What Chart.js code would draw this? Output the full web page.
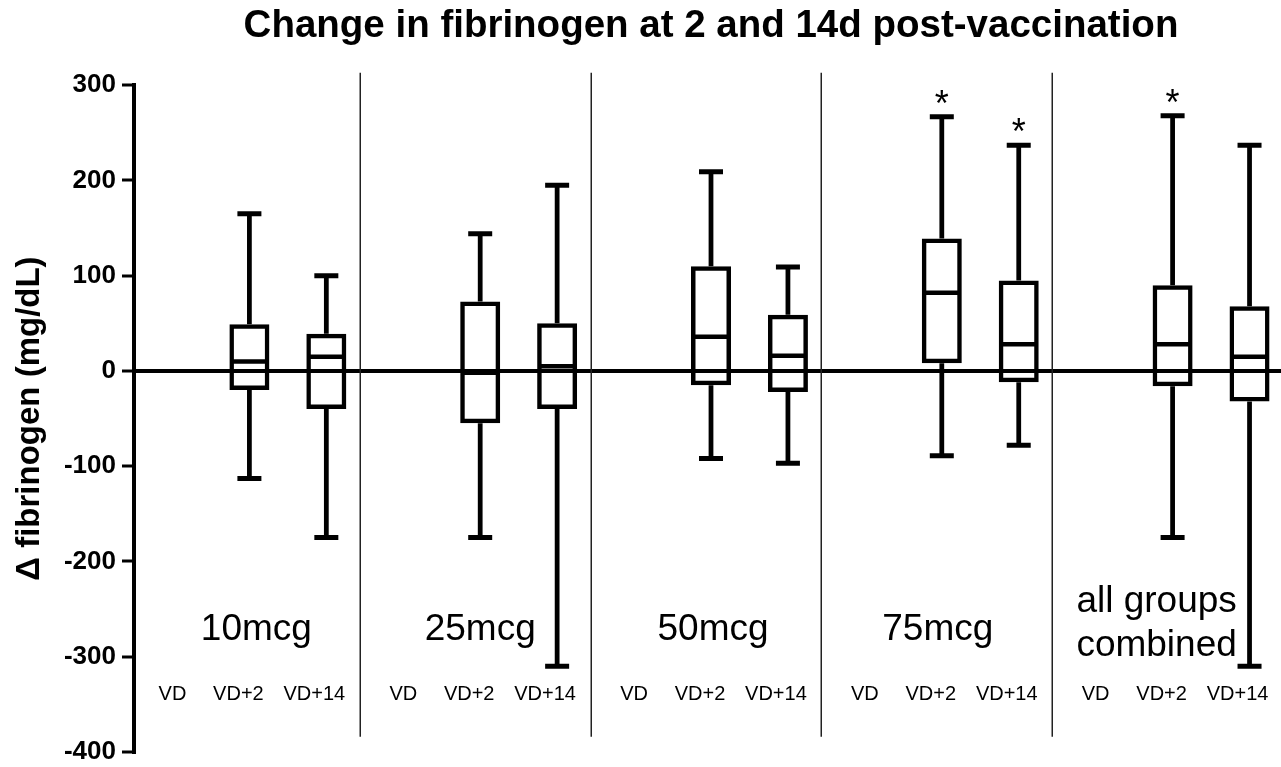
<!DOCTYPE html>
<html><head><meta charset="utf-8">
<script src="https://cdn.jsdelivr.net/npm/chart.js@4"></script>
<style>
html,body{margin:0;padding:0;background:#fff;overflow:hidden;}
#clip{position:relative;width:1281px;height:767px;overflow:hidden;}
#holder{position:relative;width:1288px;height:767px;}
canvas{display:block;}
</style>
</head><body>
<div id="clip"><div id="holder"><canvas id="c"></canvas></div></div>
<script>
// ---- data ----
const titleText = 'Change in fibrinogen at 2 and 14d post-vaccination';
const yTitle = 'Δ fibrinogen (mg/dL)';
const categories = ['VD','VD+2','VD+14','VD','VD+2','VD+14','VD','VD+2','VD+14','VD','VD+2','VD+14','VD','VD+2','VD+14'];
const groupLabels = [['10mcg'], ['25mcg'], ['50mcg'], ['75mcg'], ['all groups', 'combined']];
const yTicks = [-400, -300, -200, -100, 0, 100, 200, 300];
const whiskerMax = [null, 165, 100, null, 144, 195, null, 209, 109, null, 267, 237, null, 268, 237];
const q3         = [null,  49,  39, null,  73,  50, null, 110,  59, null, 139,  95, null,  90,  68];
const median     = [null,  10,  15, null,  -2,   5, null,  36,  16, null,  82,  28, null,  28,  15];
const q1         = [null, -20, -40, null, -55, -40, null, -15, -22, null,   8, -12, null, -16, -32];
const whiskerMin = [null,-113,-175, null,-175,-310, null, -92, -97, null, -89, -78, null,-175,-310];
const significant = [false,false,false, false,false,false, false,false,false, false,true,true, false,true,false];

// ---- styling constants ----
const FONT = '"Liberation Sans", Arial, Helvetica, sans-serif';
const catLabelShift = [0, -11, -12];           // px shift of VD / VD+2 / VD+14 text
const groupLabelShift = [7, 0, 2, -4, -16];     // px shift of group captions
const separatorShift = -5;

const boxes = categories.map((_, i) => q1[i] == null ? null : [q1[i], q3[i]]);
const lowerW = categories.map((_, i) => whiskerMin[i] == null ? null : [whiskerMin[i], q1[i]]);
const upperW = categories.map((_, i) => whiskerMax[i] == null ? null : [q3[i], whiskerMax[i]]);

const overlay = {
  id: 'overlay',
  afterDatasetsDraw(chart) {
    const {ctx, scales: {x, y}} = chart;
    const cx = i => x.getPixelForValue(i);
    ctx.save();
    // group separators
    ctx.strokeStyle = '#222';
    ctx.lineWidth = 1.5;
    for (let g = 1; g < groupLabels.length; g++) {
      const i = g * 3 - 1;
      const px = Math.round((cx(i) + cx(i + 1)) / 2 + separatorShift) + 0.25;
      ctx.beginPath();
      ctx.moveTo(px, y.getPixelForValue(313));
      ctx.lineTo(px, y.getPixelForValue(-384));
      ctx.stroke();
    }
    ctx.fillStyle = '#000';
    // category labels
    ctx.font = '20px ' + FONT;
    ctx.textAlign = 'center';
    ctx.textBaseline = 'middle';
    categories.forEach((c, i) => {
      ctx.fillText(c, cx(i) + catLabelShift[i % 3], y.getPixelForValue(-340));
    });
    // group captions
    ctx.font = '37px ' + FONT;
    ctx.textBaseline = 'alphabetic';
    groupLabels.forEach((lines, g) => {
      const px = cx(g * 3 + 1) + groupLabelShift[g];
      if (lines.length === 1) {
        ctx.fillText(lines[0], px, y.getPixelForValue(-282));
      } else {
        lines.forEach((t, k) => ctx.fillText(t, px, y.getPixelForValue(-253) + k * 44));
      }
    });
    // significance asterisks
    ctx.font = '36px ' + FONT;
    significant.forEach((s, i) => {
      if (s) ctx.fillText('*', cx(i), y.getPixelForValue(whiskerMax[i]) - 1);
    });
    ctx.restore();
  }
};

new Chart(document.getElementById('c'), {
  type: 'bar',
  data: {
    labels: categories,
    datasets: [
      { label: 'box', data: boxes, backgroundColor: 'rgba(0,0,0,0)', borderColor: '#000', borderWidth: 4.5, barPercentage: 0.52 },
      { label: 'lower whisker', data: lowerW, backgroundColor: '#000', borderWidth: 0, barPercentage: 0.062 },
      { label: 'upper whisker', data: upperW, backgroundColor: '#000', borderWidth: 0, barPercentage: 0.062 },
      { type: 'line', label: 'median', data: median, showLine: false, pointStyle: 'line', pointRadius: 17, pointBorderWidth: 4.5, pointBorderColor: '#000', pointBackgroundColor: '#000' },
      { type: 'line', label: 'max', data: whiskerMax, showLine: false, pointStyle: 'line', pointRadius: 12, pointBorderWidth: 5, pointBorderColor: '#000', pointBackgroundColor: '#000' },
      { type: 'line', label: 'min', data: whiskerMin, showLine: false, pointStyle: 'line', pointRadius: 12, pointBorderWidth: 5, pointBorderColor: '#000', pointBackgroundColor: '#000' }
    ]
  },
  options: {
    responsive: true,
    maintainAspectRatio: false,
    animation: false,
    events: [],
    datasets: { bar: { categoryPercentage: 1, grouped: false, borderSkipped: false } },
    layout: { autoPadding: false, padding: { top: 0, right: 0, bottom: 15, left: 0 } },
    plugins: {
      legend: { display: false },
      tooltip: { enabled: false },
      title: { display: true, fullSize: false, text: titleText, color: '#000', font: { family: FONT, size: 38.5, weight: 'bold' }, padding: { top: 3, bottom: 36 } }
    },
    scales: {
      x: { display: false, offset: true },
      y: {
        min: yTicks[0], max: yTicks[yTicks.length - 1],
        afterBuildTicks: s => { s.ticks = yTicks.map(v => ({ value: v })); },
        ticks: { color: '#000', font: { family: FONT, size: 26, weight: 'bold', lineHeight: 0.7 }, padding: 6 },
        grid: {
          color: c => (c.tick && c.tick.value === 0) ? '#000' : 'rgba(0,0,0,0)',
          lineWidth: 4, drawTicks: true, tickLength: 12, tickColor: '#000', tickWidth: 3
        },
        border: { display: true, color: '#000', width: 4 },
        title: { display: true, text: yTitle, color: '#000', font: { family: FONT, size: 33, weight: 'bold' }, padding: { top: 10, bottom: 0 } },
        afterFit: s => { s.width = 134; }
      }
    }
  },
  plugins: [overlay]
});
</script>
</body></html>
